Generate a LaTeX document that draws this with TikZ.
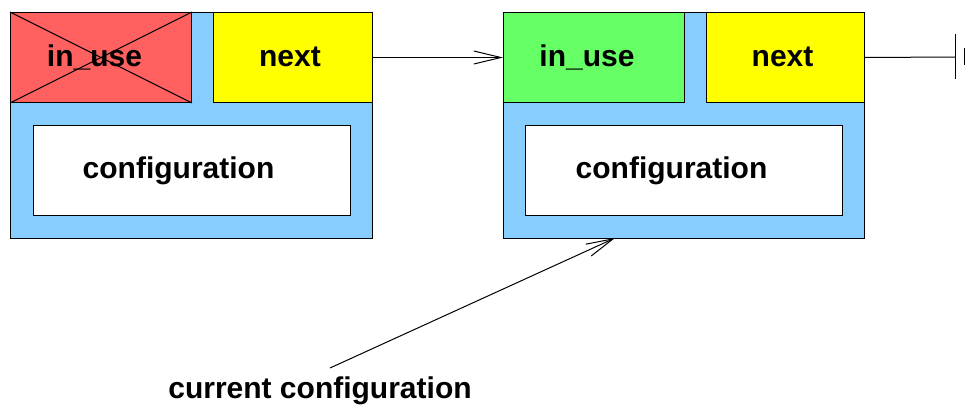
\documentclass[tikz,border=0pt]{standalone}
\usepackage{fontspec}
\setmainfont{Liberation Sans}
\usetikzlibrary{arrows.meta}

\definecolor{cellblue}{HTML}{87CEFF}
\definecolor{cellred}{HTML}{FF6060}
\definecolor{cellgreen}{HTML}{66FF66}
\definecolor{cellyellow}{HTML}{FFFF00}

\begin{document}
\begin{tikzpicture}[x=1pt, y=-1pt, >={Straight Barb[length=27pt, width=13pt]}]
  % Styles des cases
  \tikzset{
    box/.style={draw=black, line width=1pt, inner sep=0pt, anchor=north west},
    lbl/.style={font=\fontsize{30}{36}\selectfont\bfseries, inner sep=0pt, anchor=base},
    link/.style={line width=1pt}
  }
  \useasboundingbox (0,0) rectangle (968,405);

  % --- Premier maillon (libéré) ---
  \node[box, fill=cellblue, minimum width=362pt, minimum height=226pt] (outA) at (10,12) {};
  \node[box, fill=cellred, minimum width=181pt, minimum height=90pt] (useA) at (10,12) {};
  \node[box, fill=cellyellow, minimum width=159pt, minimum height=90pt] (nextA) at (213,12) {};
  \node[box, fill=white, minimum width=317pt, minimum height=90pt] (confA) at (33,125) {};
  \node[lbl] (useAtxt) at (94.5,66) {in\_use};
  \node[lbl] (nextAtxt) at (290,66) {next};
  \node[lbl] (confAtxt) at (178.5,178) {configuration};
  % croix sur in_use
  \draw[link] (useA.north west) -- (useA.south east);
  \draw[link] (useA.south west) -- (useA.north east);

  % --- Second maillon (courant) ---
  \node[box, fill=cellblue, minimum width=361pt, minimum height=226pt] (outB) at (503,12) {};
  \node[box, fill=cellgreen, minimum width=181pt, minimum height=90pt] (useB) at (503,12) {};
  \node[box, fill=cellyellow, minimum width=158pt, minimum height=90pt] (nextB) at (706,12) {};
  \node[box, fill=white, minimum width=317pt, minimum height=90pt] (confB) at (525,125) {};
  \node[lbl] (useBtxt) at (587,66) {in\_use};
  \node[lbl] (nextBtxt) at (782.5,66) {next};
  \node[lbl] (confBtxt) at (671.5,178) {configuration};

  % Pointeurs
  \draw[link, ->] (nextA.east) -- (useB.west);
  \coordinate (nil) at (955,57);
  \draw[link] (nextB.east) -- (nil);
  \draw[link] (955,34) -- (955,79);
  \draw[link] (964,48) -- (964,65);

  % Étiquette du maillon courant
  \node[lbl] (cur) at (320,398) {current configuration};
  \coordinate (curtail) at (330,368);
  \coordinate (curhead) at (615,238);
  \draw[link, ->] (curtail) -- (curhead);

\end{tikzpicture}
\end{document}
